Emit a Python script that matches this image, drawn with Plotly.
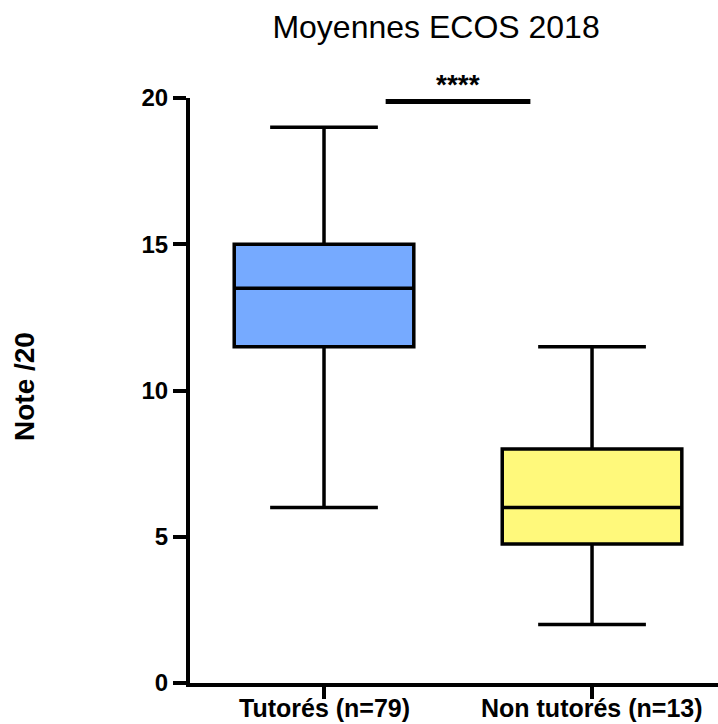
import plotly.graph_objects as go

# Box summaries (scores out of 20)
groups = ["Tutorés (n=79)", "Non tutorés (n=13)"]
q1 = [11.5, 4.75]
median = [13.5, 6.0]
q3 = [15.0, 8.0]
lower = [6.0, 2.0]
upper = [19.0, 11.5]
fills = ["#76AAFF", "#FFF97B"]

sig_label = "****"
sig_y = 19.88
y_ticks = [0, 5, 10, 15, 20]

FONT = "Liberation Sans, Arial, Helvetica, sans-serif"

fig = go.Figure()
for i, g in enumerate(groups):
    fig.add_trace(go.Box(
        x=[g], q1=[q1[i]], median=[median[i]], q3=[q3[i]],
        lowerfence=[lower[i]], upperfence=[upper[i]],
        fillcolor=fills[i],
        line=dict(color="black", width=3.5),
        width=0.67, whiskerwidth=0.6,
        boxpoints=False, hoverinfo="skip", showlegend=False,
    ))

# category labels under the axis, kept tight to the bottom edge
for g in groups:
    fig.add_annotation(x=g, y=-0.0701, xref="x", yref="paper",
                       xanchor="center", yanchor="bottom", showarrow=False,
                       text=f"<b>{g}</b>",
                       font=dict(family=FONT, size=25, color="black"))

# significance bar between the two groups
fig.add_shape(type="line", xref="x", yref="y", x0=0.23, x1=0.77,
              y0=sig_y, y1=sig_y, line=dict(color="black", width=5))
fig.add_annotation(x=0.5, y=sig_y, xref="x", yref="y", text=f"<b>{sig_label}</b>",
                   showarrow=False, yanchor="bottom", yshift=0,
                   font=dict(family=FONT, size=28, color="black"))

# y axis title
fig.add_annotation(x=-0.3125, y=0.506, xref="paper", yref="paper",
                   xanchor="center", yanchor="middle",
                   text="<b>Note /20</b>", textangle=-90, showarrow=False,
                   font=dict(family=FONT, size=28, color="black"))

fig.update_layout(
    width=718, height=724,
    margin=dict(l=190, r=0, t=98, b=41, pad=0),
    paper_bgcolor="white", plot_bgcolor="white",
    title=dict(text="Moyennes ECOS 2018", x=0.466, xref="paper",
               xanchor="center", y=1 - 27 / 724, yanchor="middle",
               font=dict(family=FONT, size=32, color="black")),
    font=dict(family=FONT, color="black"),
)
fig.update_xaxes(
    type="category", range=[-0.5, 1.47], automargin=False,
    showline=True, linecolor="black", linewidth=4,
    ticks="outside", ticklen=12, tickwidth=4, tickcolor="black",
    showticklabels=False,
    showgrid=False, zeroline=False, fixedrange=True,
)
fig.update_yaxes(
    range=[0, 20], tickvals=y_ticks, automargin=False,
    showline=True, linecolor="black", linewidth=4,
    ticks="outside", ticklen=13, tickwidth=4, tickcolor="black",
    tickfont=dict(family=FONT, size=24, color="black", weight="bold"),
    ticklabelstandoff=0,
    showgrid=False, zeroline=False, fixedrange=True,
)

fig.write_html("out.html")
